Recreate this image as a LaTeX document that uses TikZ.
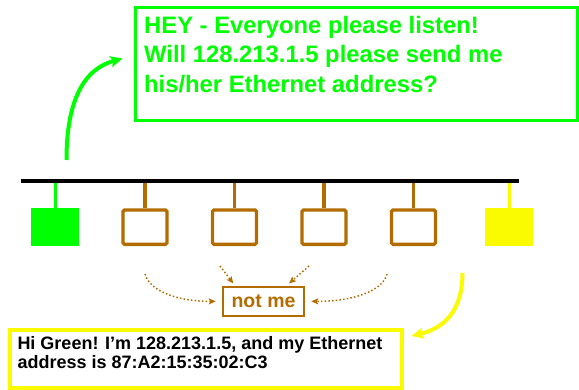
\documentclass[tikz,border=0pt]{standalone}
\usepackage{fontspec}
\setmainfont{Liberation Sans}
\usetikzlibrary{arrows.meta}
\definecolor{lgreen}{RGB}{0,255,0}
\definecolor{lyellow}{RGB}{250,250,0}
\definecolor{lbrown}{RGB}{179,108,0}
\begin{document}
\begin{tikzpicture}[x=1pt,y=-1pt,
  busline/.style={line width=4pt},
  stem/.style={line width=3.3pt},
  host/.style={draw=lbrown, line width=3.3pt, rounded corners=1.5pt, minimum width=44pt, minimum height=34.4pt, inner sep=0, fill=white},
  solidhost/.style={minimum width=47.7pt, minimum height=37.4pt, inner sep=0},
  bigarrow/.style={line width=4pt, -{Stealth[length=12pt,width=11pt,inset=2.5pt]}},
  dotarrow/.style={draw=lbrown, line width=1.5pt, dash pattern=on 1.5pt off 2.2pt, -{Stealth[length=7pt,width=6pt,inset=1.5pt]}},
]
\useasboundingbox (0,0) rectangle (579,390);

% message box (green)
\node[draw=lgreen, line width=3.2pt, minimum width=441.5pt, minimum height=113pt, inner sep=0] (msg) at (356.55,64) {};
\node[anchor=base west, align=left, inner sep=0, text=lgreen, font=\bfseries\fontsize{23.8pt}{29.5pt}\selectfont] (msgtxt) at (144,92.3)
  {HEY - Everyone please listen!\\Will 128.213.1.5 please send me\\his/her Ethernet address?};

% bus
\coordinate (busL) at (20.5,181);
\coordinate (busR) at (519.3,181);

% hosts
\node[solidhost, fill=lgreen] (g) at (55.2,227) {};
\node[host] (b1) at (145,227.2) {};
\node[host] (b2) at (234.5,227.2) {};
\node[host] (b3) at (324,227.2) {};
\node[host] (b4) at (413.5,227.2) {};
\node[solidhost, fill=lyellow] (y) at (509.2,227) {};

\draw[stem, lgreen] (g.north) -- (g |- busL);
\foreach \h in {b1,b2,b3,b4} \draw[stem, lbrown] (\h.north) -- (\h |- busL);
\draw[stem, lyellow] (y.north) -- (y |- busL);
\draw[busline] (busL) -- (busR);

% green arrow
\coordinate (gs) at (66.5,160);
\coordinate (gt) at (122.5,58.5);
\draw[bigarrow, lgreen] (gs) .. controls (66.5,100) and (84,69) .. (gt);

% not me
\node[draw=lbrown, line width=2pt, minimum width=81.5pt, minimum height=29.5pt, inner sep=0, text=lbrown, font=\bfseries\fontsize{19.5pt}{20pt}\selectfont] (nm) at (263.5,301.3) {not me};

\coordinate (d1) at (145,274);
\coordinate (d2) at (220,266);
\coordinate (d3) at (309,266);
\coordinate (d4) at (387,274);
\draw[dotarrow] (d1) .. controls (150,292) and (180,301.7) .. ([xshift=-6pt]nm.west);
\draw[dotarrow] (d2) -- (233.3,283.5);
\draw[dotarrow] (d3) -- (289,283.5);
\draw[dotarrow] (d4) .. controls (383,291) and (352,301.7) .. ([xshift=6pt]nm.east);

% reply box (yellow)
\node[draw=lyellow, line width=4pt, minimum width=391.4pt, minimum height=58.3pt, inner sep=0] (reply) at (206,359.2) {};
\node[anchor=base west, align=left, inner sep=0, font=\bfseries\fontsize{18pt}{19pt}\selectfont] (replytxt) at (17.3,368.5)
  {Hi Green! I’m 128.213.1.5, and my Ethernet\\address is 87:A2:15:35:02:C3};

% yellow arrow
\coordinate (ys) at (462.5,273);
\coordinate (yt) at (411.5,336);
\draw[bigarrow, lyellow] (ys) .. controls (462.5,310) and (445,328) .. (yt);
\end{tikzpicture}
\end{document}
